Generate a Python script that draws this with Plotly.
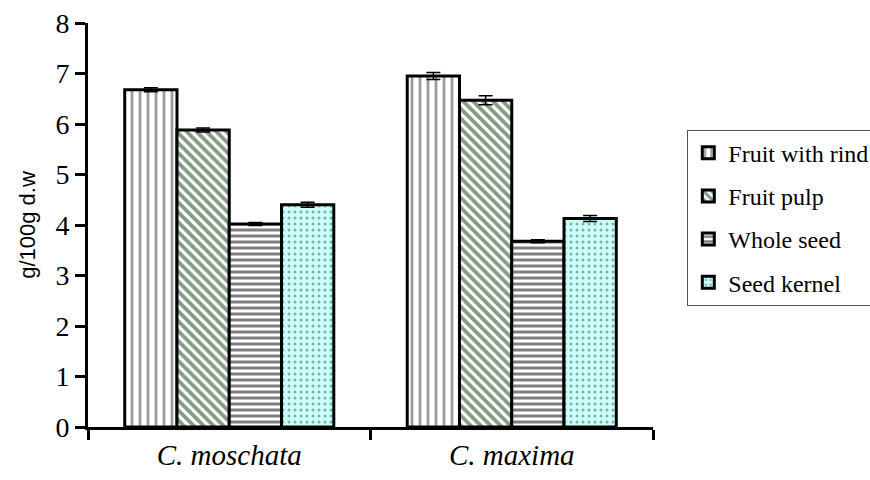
import plotly.graph_objects as go

categories = ["<i>C. moschata</i>", "<i>C. maxima</i>"]
series_names = ["Fruit with rind", "Fruit pulp", "Whole seed", "Seed kernel"]
fruit_with_rind = [6.68, 6.95]
fruit_pulp = [5.88, 6.47]
whole_seed = [4.02, 3.68]
seed_kernel = [4.40, 4.13]
err_rind = [0.04, 0.07]
err_pulp = [0.04, 0.09]
err_whole = [0.03, 0.03]
err_kernel = [0.05, 0.06]
y_ticks = [0, 1, 2, 3, 4, 5, 6, 7, 8]

values = [fruit_with_rind, fruit_pulp, whole_seed, seed_kernel]
errors = [err_rind, err_pulp, err_whole, err_kernel]
patterns = [
    dict(shape="|", fgcolor="#3a3a3a", bgcolor="white", size=8, solidity=0.35),
    dict(shape="\\", fgcolor="#0a380c", bgcolor="white", size=7, solidity=0.55),
    dict(shape="-", fgcolor="black", bgcolor="white", size=6, solidity=0.5),
    dict(shape=".", fgcolor="#2a6a3a", bgcolor="#ccffff", size=6, solidity=0.2),
]

fig = go.Figure()
for i, name in enumerate(series_names):
    fig.add_trace(go.Bar(
        x=categories, y=values[i], name=name, legendgroup=name,
        marker=dict(color=patterns[i]["bgcolor"], pattern=patterns[i],
                    line=dict(color="black", width=3)),
        error_y=dict(type="data", array=errors[i], color="black", thickness=1.5, width=7),
    ))

fig.update_layout(
    width=870, height=480,
    margin=dict(l=88, r=217, t=23, b=53, autoexpand=False),
    plot_bgcolor="white", paper_bgcolor="white",
    barmode="group", bargap=0.26, bargroupgap=0,
    font=dict(family="Liberation Serif", color="black"),
    showlegend=True,
    legend=dict(xref="container", yref="container", x=0.79, y=0.73,
                xanchor="left", yanchor="top",
                bordercolor="#555555", borderwidth=1, itemwidth=30,
                font=dict(family="Liberation Serif", size=24, color="black"),
                tracegroupgap=9, traceorder="grouped"),
)
fig.update_xaxes(
    showline=True, linecolor="black", linewidth=3,
    ticks="outside", tickson="boundaries", ticklen=10, tickwidth=3, tickcolor="black",
    tickfont=dict(family="Liberation Serif", size=29),
    showgrid=False, automargin=False,
)
fig.update_yaxes(
    range=[0, 8], tickvals=y_ticks,
    showline=True, linecolor="black", linewidth=3,
    ticks="outside", ticklen=10, tickwidth=3, tickcolor="black",
    tickfont=dict(family="Liberation Serif", size=28),
    showgrid=False, zeroline=False, automargin=False,
    title=dict(text="g/100g d.w", font=dict(family="Liberation Sans", size=22), standoff=14),
)
fig.write_html("out.html")
